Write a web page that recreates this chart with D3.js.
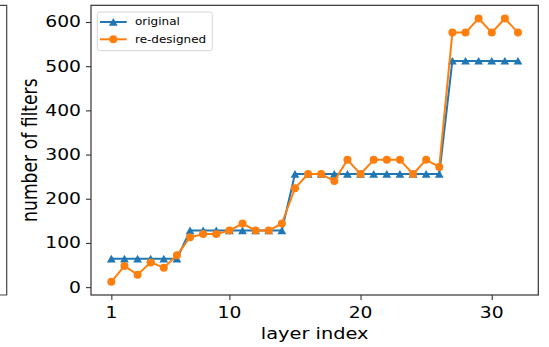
<!DOCTYPE html>
<html>
<head>
<meta charset="utf-8">
<script src="https://d3js.org/d3.v7.min.js"></script>
<style>
    body { margin: 0; background: #fff; }
    text { font-family: "DejaVu Sans", sans-serif; fill: #000; }
</style>
</head>
<body>
<svg id="vis" width="549" height="347"></svg>
<script>
// layer index 1..32
const layers = d3.range(1, 33);

const original = [
    64, 64, 64, 64, 64, 64,
    128, 128, 128, 128, 128, 128, 128, 128,
    256, 256, 256, 256, 256, 256, 256, 256, 256, 256, 256, 256,
    512, 512, 512, 512, 512, 512
];

const redesigned = [
    12, 48, 28, 56, 44, 72,
    113, 120, 120, 128, 144, 128, 128, 144,
    224, 256, 256, 240, 288, 256, 288, 288, 288, 256, 288, 272,
    576, 576, 608, 576, 608, 576
];

const xTicks = [1, 10, 20, 30];
const yTicks = [0, 100, 200, 300, 400, 500, 600];

const seriesNames = ["original", "re-designed"];
const seriesColors = ["#1f77b4", "#ff7f0e"];

const width = 549,
    height = 347;

const margin = {
    top: 5.3,
    bottom: 52,
    left: 91,
    right: 10.7
};

// the picture is stretched sideways, so text is too
const sx = 1.25;

var svg = d3.select("svg#vis");

function translate(x, y) {
    return "translate(" + String(x) + "," + String(y) + ")";
}

function stretchedText(parent, x, y, str, size, anchor, rotate) {
    let t = parent.append("text")
        .attr("transform", translate(x, y) + " scale(" + sx + ",1)" + (rotate ? " rotate(-90)" : ""))
        .attr("text-anchor", anchor)
        .style("font-size", size + "px")
        .text(str);
    return t;
}

// edge of the neighbouring panel on the left
svg.append("path")
    .attr("d", "M0," + margin.top + "H6.7V" + (height - margin.bottom) + "H0")
    .attr("fill", "none")
    .attr("stroke", "#444")
    .attr("stroke-width", 1.2);

// scales with matplotlib style 5% padding
let xPad = (d3.max(layers) - d3.min(layers)) * 0.05;
let x = d3.scaleLinear()
    .domain([d3.min(layers) - xPad, d3.max(layers) + xPad])
    .range([margin.left, width - margin.right]);

let yMin = d3.min(original.concat(redesigned));
let yMax = d3.max(original.concat(redesigned));
let yPad = (yMax - yMin) * 0.05;
let y = d3.scaleLinear()
    .domain([yMin - yPad, yMax + yPad])
    .range([height - margin.bottom, margin.top]);

let plot = svg.append("g").attr("id", "plot");

// axes (ticks only, labels drawn by hand so they can be stretched)
let xAxis = d3.axisBottom(x).tickValues(xTicks).tickSize(5).tickSizeOuter(0).tickFormat("");
let yAxis = d3.axisLeft(y).tickValues(yTicks).tickSize(5).tickSizeOuter(0).tickFormat("");

let xg = svg.append("g").attr("transform", translate(0, height - margin.bottom)).call(xAxis);
let yg = svg.append("g").attr("transform", translate(margin.left, 0)).call(yAxis);
xg.select(".domain").remove();
yg.select(".domain").remove();
svg.selectAll(".tick line").attr("stroke", "#333").attr("stroke-width", 1.1);

xTicks.forEach(function(d) {
    stretchedText(svg, x(d), 318, String(d), 15, "middle");
});
yTicks.forEach(function(d) {
    stretchedText(svg, margin.left - 10, y(d), String(d), 15, "end")
        .attr("dy", "0.36em");
});

stretchedText(svg, (margin.left + width - margin.right) / 2, 339, "layer index", 15.5, "middle");
stretchedText(svg, 37, (margin.top + height - margin.bottom) / 2, "number of filters", 17.2, "middle", true);

// lines + markers
let line = d3.line()
    .x((d, i) => x(layers[i]))
    .y(d => y(d));

function triangle(cx, cy) {
    return "M" + cx + "," + (cy - 4) + "L" + (cx + 4.4) + "," + (cy + 3.7) + "L" + (cx - 4.4) + "," + (cy + 3.7) + "Z";
}

[original, redesigned].forEach(function(series, k) {
    let g = plot.append("g").attr("class", "series");
    g.append("path")
        .datum(series)
        .attr("d", line)
        .attr("fill", "none")
        .attr("stroke", seriesColors[k])
        .attr("stroke-width", 2)
        .attr("stroke-linejoin", "round");

    if (k == 0) {
        g.selectAll("path.marker")
            .data(series)
            .enter()
            .append("path")
            .attr("class", "marker")
            .attr("d", (d, i) => triangle(x(layers[i]), y(d)))
            .attr("fill", seriesColors[k]);
    } else {
        g.selectAll("circle")
            .data(series)
            .enter()
            .append("circle")
            .attr("cx", (d, i) => x(layers[i]))
            .attr("cy", d => y(d))
            .attr("r", 4)
            .attr("fill", seriesColors[k]);
    }
});

// frame
svg.append("rect")
    .attr("x", margin.left)
    .attr("y", margin.top)
    .attr("width", width - margin.right - margin.left)
    .attr("height", height - margin.bottom - margin.top)
    .attr("fill", "none")
    .attr("stroke", "#333")
    .attr("stroke-width", 1.2);

// legend
let legend = svg.append("g").attr("id", "legend");
legend.append("rect")
    .attr("x", 97.3)
    .attr("y", 12)
    .attr("width", 115)
    .attr("height", 38.7)
    .attr("rx", 2.5)
    .attr("fill", "#fff")
    .attr("fill-opacity", 0.8)
    .attr("stroke", "#d6d6d6")
    .attr("stroke-width", 1);

seriesNames.forEach(function(name, k) {
    let ly = 22 + k * 17.3;
    legend.append("line")
        .attr("x1", 100).attr("x2", 126.7)
        .attr("y1", ly).attr("y2", ly)
        .attr("stroke", seriesColors[k])
        .attr("stroke-width", 2);
    if (k == 0) {
        legend.append("path").attr("d", triangle(113.3, ly)).attr("fill", seriesColors[k]);
    } else {
        legend.append("circle").attr("cx", 113.3).attr("cy", ly).attr("r", 4).attr("fill", seriesColors[k]);
    }
    stretchedText(legend, 135, ly, name, 9.6, "start").attr("dy", "0.35em");
});
</script>
</body>
</html>
